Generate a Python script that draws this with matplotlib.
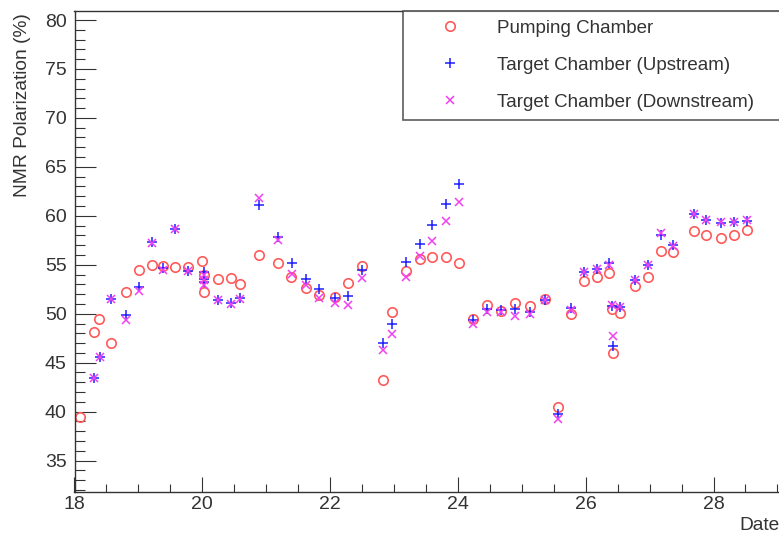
import matplotlib
matplotlib.use("Agg")
import matplotlib.pyplot as plt
from matplotlib.ticker import MultipleLocator

# ---- data (day of month, polarization %) ----
pc_day = [18.09, 18.30, 18.39, 18.57, 18.81, 19.01, 19.21, 19.39, 19.57, 19.77,
          19.99, 20.03, 20.03, 20.24, 20.45, 20.59, 20.89, 21.19, 21.39, 21.62,
          21.83, 22.07, 22.28, 22.50, 22.83, 22.97, 23.18, 23.40, 23.60, 23.81,
          24.02, 24.24, 24.46, 24.67, 24.89, 25.13, 25.36, 25.57, 25.77, 25.97,
          26.18, 26.37, 26.41, 26.42, 26.54, 26.77, 26.98, 27.18, 27.36, 27.69,
          27.89, 28.11, 28.32, 28.52]
pc_pol = [39.4, 48.1, 49.5, 47.0, 52.2, 54.5, 55.0, 54.9, 54.8, 54.8,
          55.4, 54.0, 52.2, 53.5, 53.6, 53.0, 56.0, 55.2, 53.8, 52.6,
          51.9, 51.7, 53.1, 54.9, 43.2, 50.2, 54.4, 55.6, 55.8, 55.8,
          55.2, 49.5, 50.9, 50.3, 51.1, 50.8, 51.5, 40.5, 50.0, 53.3,
          53.7, 54.2, 50.5, 46.0, 50.1, 52.8, 53.8, 56.4, 56.3, 58.4,
          58.0, 57.7, 58.0, 58.5]

tc_day = [18.31, 18.40, 18.57, 18.81, 19.01, 19.21, 19.39, 19.57, 19.77, 20.02,
          20.02, 20.02, 20.24, 20.45, 20.59, 20.89, 21.19, 21.40, 21.62, 21.83,
          22.07, 22.28, 22.50, 22.82, 22.97, 23.18, 23.40, 23.60, 23.81, 24.02,
          24.24, 24.46, 24.67, 24.89, 25.13, 25.36, 25.57, 25.77, 25.97, 26.18,
          26.37, 26.41, 26.42, 26.54, 26.77, 26.98, 27.18, 27.36, 27.69, 27.89,
          28.11, 28.32, 28.52]
up_pol = [43.4, 45.6, 51.5, 49.9, 52.7, 57.3, 54.7, 58.7, 54.4, 54.3,
          53.5, 53.2, 51.4, 51.1, 51.6, 61.1, 57.8, 55.2, 53.5, 52.5,
          51.6, 51.8, 54.5, 47.0, 48.9, 55.3, 57.1, 59.1, 61.2, 63.3,
          49.4, 50.5, 50.4, 50.5, 50.2, 51.4, 39.8, 50.6, 54.3, 54.6,
          55.2, 50.8, 46.7, 50.7, 53.4, 55.0, 58.0, 57.0, 60.2, 59.6,
          59.3, 59.4, 59.5]
down_pol = [43.4, 45.6, 51.5, 49.4, 52.3, 57.2, 54.5, 58.7, 54.4, 54.0,
            53.4, 52.9, 51.4, 51.0, 51.5, 61.8, 57.5, 54.1, 52.9, 51.6,
            51.1, 50.9, 53.6, 46.3, 47.9, 53.8, 55.9, 57.4, 59.5, 61.4,
            49.0, 50.2, 50.2, 49.8, 50.0, 51.4, 39.2, 50.4, 54.3, 54.6,
            55.0, 50.9, 47.7, 50.7, 53.4, 55.0, 58.2, 56.9, 60.2, 59.6,
            59.4, 59.4, 59.6]

plt.rcParams['font.family'] = ['Liberation Sans', 'DejaVu Sans']
text_col = '#333333'
frame_col = '#333333'

fig = plt.figure(figsize=(7.79, 5.36), dpi=100)
ax = fig.add_axes([74.5 / 779, 43.7 / 536, 715.7 / 779, 481.6 / 536])

ax.plot(pc_day, pc_pol, 'o', ls='none', mfc='none', mec='#ff5a5a', mew=1.2, ms=6.8,
        label='Pumping Chamber')
ax.plot(tc_day, up_pol, '+', ls='none', color='#1f1fff', mew=1.1, ms=7,
        label='Target Chamber (Upstream)')
ax.plot(tc_day, down_pol, 'x', ls='none', color='#f040f0', mew=1.1, ms=5.5,
        label='Target Chamber (Downstream)')

ax.set_xlim(18, 29.2)
ax.set_ylim(31.76, 80.95)

ax.xaxis.set_major_locator(MultipleLocator(2))
ax.xaxis.set_minor_locator(MultipleLocator(0.5))
ax.yaxis.set_major_locator(MultipleLocator(5))
ax.yaxis.set_minor_locator(MultipleLocator(1))
ax.set_yticks(range(35, 81, 5))

ax.tick_params(axis='both', which='both', direction='in', colors=frame_col,
               labelcolor=text_col, width=0.8, labelsize=14)
ax.tick_params(axis='y', which='major', length=15, pad=5.5)
ax.tick_params(axis='y', which='minor', length=7.2)
ax.tick_params(axis='x', which='major', length=10.5, pad=3)
ax.tick_params(axis='x', which='minor', length=5.8)

for sp in ax.spines.values():
    sp.set_color(frame_col)
    sp.set_linewidth(1.0)

ax.set_ylabel('NMR Polarization (%)', fontsize=13.8, color=text_col, ha='right')
ax.yaxis.set_label_coords(-0.061, 0.995)
ax.set_xlabel('Date', fontsize=13.8, color=text_col, ha='right')
ax.xaxis.set_label_coords(0.9857, -0.0513)

leg = fig.legend(loc='upper left', bbox_to_anchor=(403 / 779, 1 - 10.7 / 536, 0.6, 0),
                 mode='expand', fontsize=13.5, frameon=True, fancybox=False,
                 borderpad=0.49, handlelength=4.0, handletextpad=0.53,
                 labelspacing=1.06, borderaxespad=0)
leg.get_frame().set_edgecolor(frame_col)
leg.get_frame().set_linewidth(1.2)
for t in leg.get_texts():
    t.set_color(text_col)

fig.savefig('out.png', dpi=100)
